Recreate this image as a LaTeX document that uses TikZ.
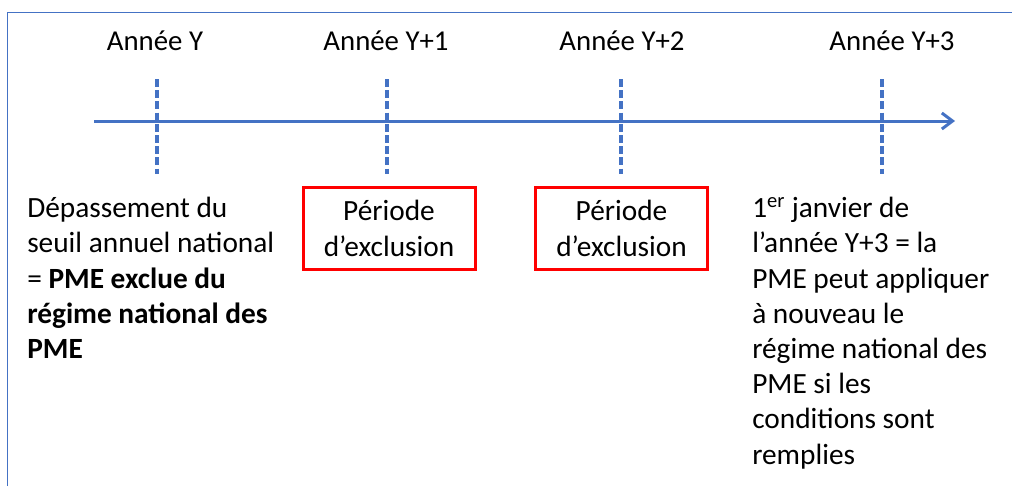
\documentclass[tikz,border=0pt]{standalone}
\usepackage{fontspec}
\setmainfont{Carlito}
\usetikzlibrary{arrows.meta, positioning}
\definecolor{TB}{RGB}{68,114,196}
\definecolor{XR}{RGB}{255,0,0}

\begin{document}
\begin{tikzpicture}[
  x=0.75pt, y=-0.75pt,
  frame/.style={draw=TB, line width=1.1pt},
  axis/.style={draw=TB, line width=2.25pt,
               -{Straight Barb[length=8pt, width=12pt]}},
  tickline/.style={draw=TB, line width=2.4pt, dash pattern=on 6pt off 2.4pt},
  yearlbl/.style={font=\fontsize{21.6}{26.4}\selectfont, anchor=base, inner sep=0pt},
  exclbox/.style={draw=XR, line width=2.25pt, minimum width=129pt,
                  minimum height=62pt, align=center, inner sep=0pt,
                  font=\fontsize{22}{26.4}\selectfont},
  note/.style={font=\fontsize{22}{26.4}\selectfont, align=left,
               anchor=north west, inner sep=0pt}
]
\useasboundingbox (0,0) rectangle (1012,486);
% Frame (only left and top sides are visible)
\draw[frame] (7.5,486) |- (1012,12.5);

% Year labels and dashed ticks
\foreach \n/\x/\lx/\lbl in {0/157/155/Année Y, 1/387/386/Année Y+1,
                            2/621/622/Année Y+2, 3/882/892/Année Y+3}{
  \node[yearlbl] (year\n) at (\lx,50) {\lbl};
  \coordinate (tick\n top) at (\x,79);
  \coordinate (tick\n bot) at (\x,174);
  \draw[tickline] (tick\n top) -- (tick\n bot);
}

% Time axis
\coordinate (axis start) at (94,121);
\coordinate (axis end) at (955,121);
\draw[axis] (axis start) -- (axis end);

% Exclusion periods
\node[exclbox] (excl1) at (389,228.5) {Période\\d’exclusion};
\node[exclbox] (excl2) at (621.5,228.5) {Période\\d’exclusion};

% Notes under the axis
\node[note] (noteY) at (27,197)
  {Dépassement du\\seuil annuel national\\= \textbf{PME exclue du}\\
   \textbf{régime national des}\\\textbf{PME}};
\node[note] (noteY3) at (752,197)
  {1\textsuperscript{er} janvier de\\l’année Y+3 = la\\PME peut appliquer\\
   à nouveau le\\régime national des\\PME si les\\conditions sont\\remplies};
\end{tikzpicture}
\end{document}
